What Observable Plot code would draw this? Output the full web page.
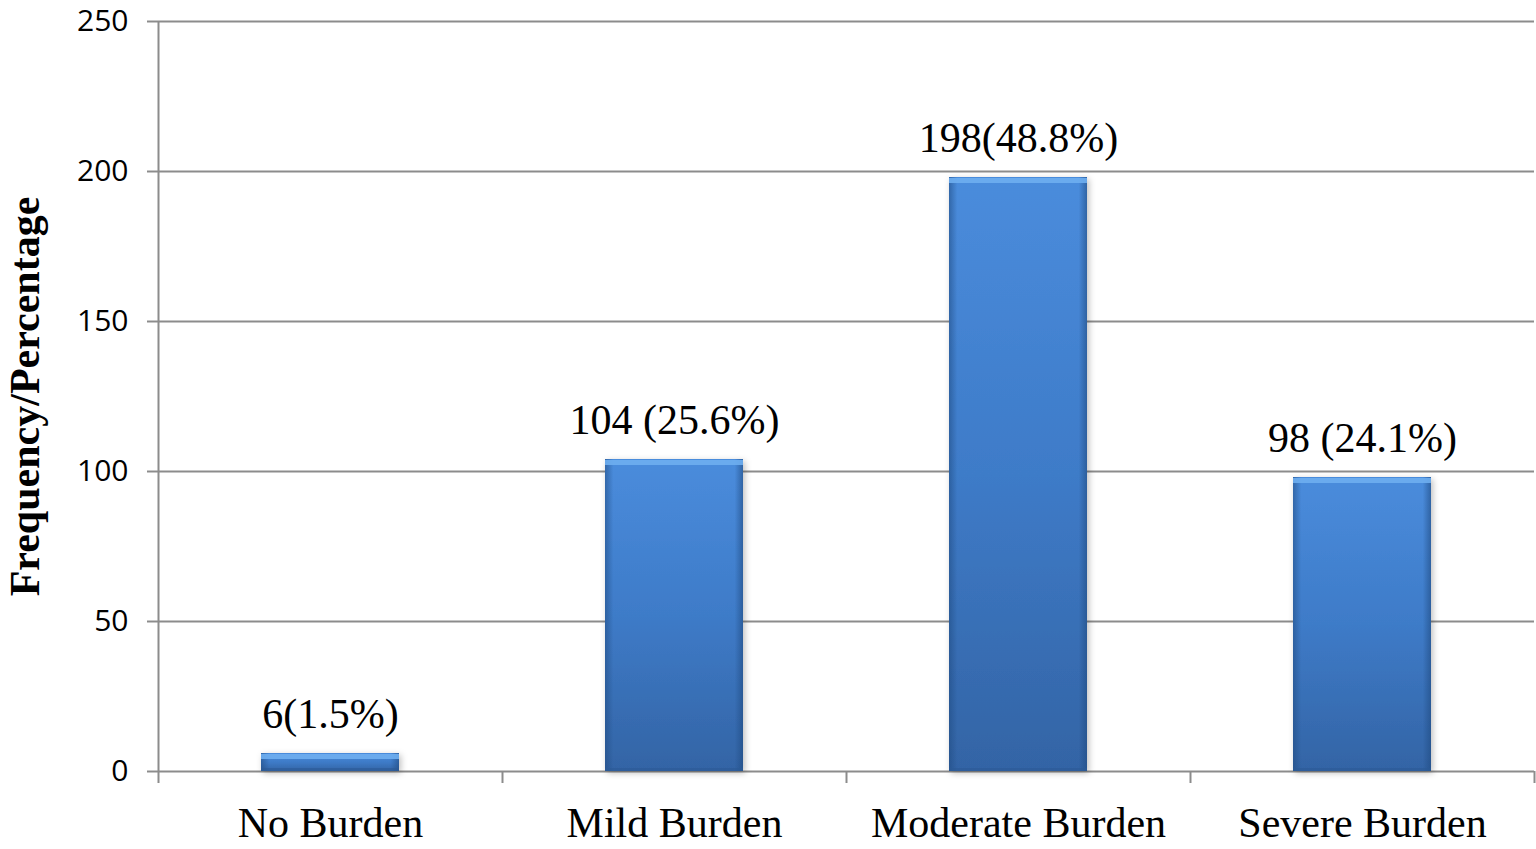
<!DOCTYPE html>
<html>
<head>
<meta charset="utf-8">
<script src="https://cdn.jsdelivr.net/npm/d3@7"></script>
<script src="https://cdn.jsdelivr.net/npm/@observablehq/plot@0.6"></script>
<style>
  html, body { margin: 0; padding: 0; background: #ffffff; }
  #chart svg { display: block; }
</style>
</head>
<body>
<div id="chart"></div>
<script>
// ---- Data ----
const categories = ["No Burden", "Mild Burden", "Moderate Burden", "Severe Burden"];
const frequencies = [6, 104, 198, 98];
const valueLabels = ["6(1.5%)", "104 (25.6%)", "198(48.8%)", "98 (24.1%)"];
const yTicks = [0, 50, 100, 150, 200, 250];
const yTitle = "Frequency/Percentage";

const data = categories.map((c, i) => ({category: c, value: frequencies[i], label: valueLabels[i]}));

// ---- Layout ----
const W = 1536, H = 849;
const mL = 158, mR = 2, mT = 21, mB = 78;
const step = (W - mL - mR) / categories.length;
const gray = "#8c8c8c";
const serif = "'Liberation Serif', 'Times New Roman', serif";

const chart = Plot.plot({
  width: W,
  height: H,
  marginLeft: mL,
  marginRight: mR,
  marginTop: mT,
  marginBottom: mB,
  style: {background: "#ffffff", overflow: "visible"},
  x: {domain: categories, paddingInner: 0.6, paddingOuter: 0.3, label: null},
  y: {domain: [0, 250], label: null},
  marks: [
    Plot.gridY(yTicks, {stroke: gray, strokeOpacity: 1, strokeWidth: 2}),
    // left axis line
    Plot.ruleX([categories[0]], {x: d => d, y1: 250, y2: 0, insetBottom: -12, dx: -step / 2, stroke: gray, strokeWidth: 2}),
    // category boundary ticks below the axis
    Plot.ruleX(categories, {x: d => d, y1: 0, y2: 0, insetBottom: -12, dx: step / 2, stroke: gray, strokeWidth: 2}),
    Plot.axisY(yTicks, {
      tickSize: 11, tickPadding: 19, stroke: gray, strokeWidth: 2,
      fontSize: 30, fontFamily: "'Open Sans', sans-serif", fill: "#000", label: null
    }),
    Plot.axisX({
      tickSize: 0, tickPadding: 36, fontSize: 42, fontFamily: serif, fill: "#000", label: null
    }),
    // bars
    Plot.barY(data, {x: "category", y: "value", fill: "url(#barGrad)"}),
    Plot.barY(data, {x: "category", y: "value", fill: "url(#edgeGrad)"}),
    Plot.tickY(data, {x: "category", y: "value", stroke: "#6eaef0", strokeWidth: 5, dy: 3, strokeOpacity: 0.9}),
    Plot.tickY(data, {x: "category", y: 0, stroke: "#2c5a96", strokeWidth: 3, dy: -2, strokeOpacity: 0.6}),
    // value labels
    Plot.text(data, {
      x: "category", y: "value", text: "label", lineAnchor: "bottom", dy: -26,
      fontSize: 42, fontFamily: serif, fill: "#000"
    }),
    // y title
    Plot.text([yTitle], {
      frameAnchor: "left", textAnchor: "middle", lineAnchor: "middle", rotate: -90, dx: -133, text: d => d,
      fontSize: 42, fontWeight: "bold", fontFamily: serif, fill: "#000"
    })
  ]
});

// gradients & shadow
const ns = "http://www.w3.org/2000/svg";
const defs = document.createElementNS(ns, "defs");
defs.innerHTML = `
  <linearGradient id="barGrad" x1="0" y1="0" x2="0" y2="1">
    <stop offset="0" stop-color="#4a8cdc"/>
    <stop offset="0.5" stop-color="#3e7bc8"/>
    <stop offset="1" stop-color="#3364a5"/>
  </linearGradient>
  <linearGradient id="edgeGrad" x1="0" y1="0" x2="1" y2="0">
    <stop offset="0" stop-color="#1f4a80" stop-opacity="0.55"/>
    <stop offset="0.06" stop-color="#1f4a80" stop-opacity="0"/>
    <stop offset="0.94" stop-color="#1f4a80" stop-opacity="0"/>
    <stop offset="1" stop-color="#1f4a80" stop-opacity="0.6"/>
  </linearGradient>
  <filter id="shadow" x="-10%" y="-10%" width="120%" height="120%">
    <feDropShadow dx="2" dy="2" stdDeviation="3" flood-color="#000" flood-opacity="0.25"/>
  </filter>`;
chart.insertBefore(defs, chart.firstChild);
const barGroups = chart.querySelectorAll('g[aria-label="bar"]');
if (barGroups.length) barGroups[0].setAttribute("filter", "url(#shadow)");

document.getElementById("chart").appendChild(chart);
</script>
</body>
</html>
